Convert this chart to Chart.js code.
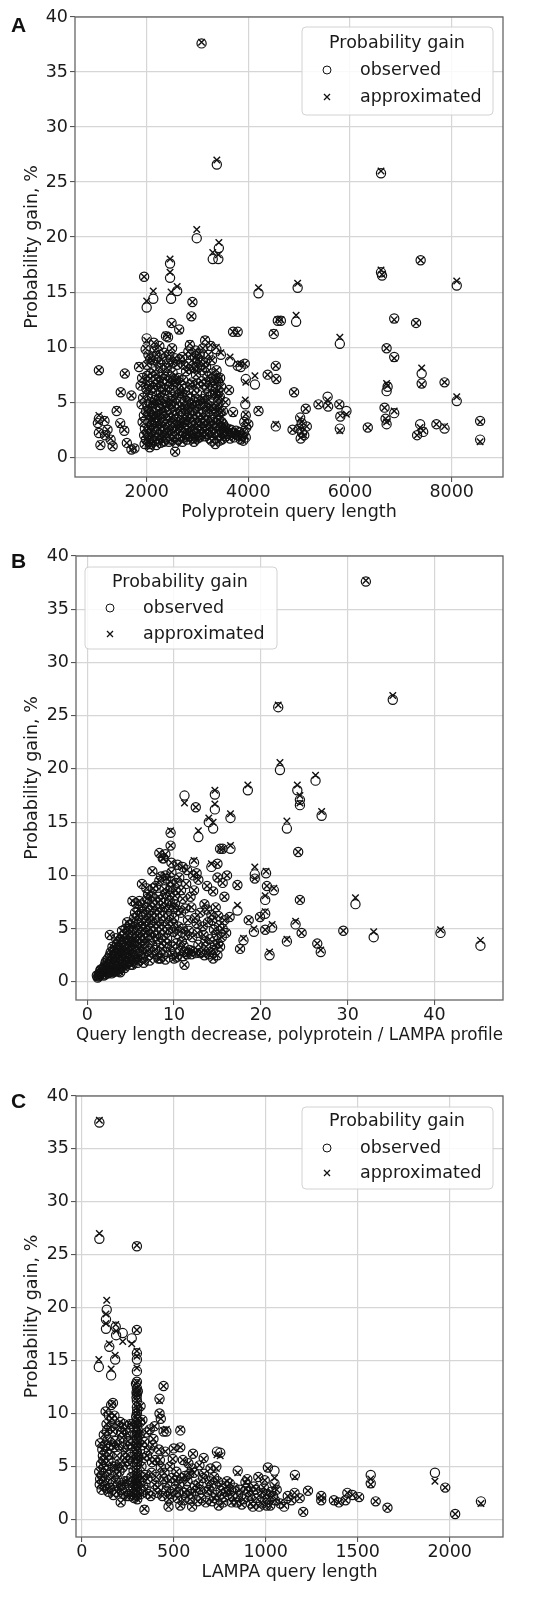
<!DOCTYPE html>
<html>
<head>
<meta charset="utf-8">
<script src="https://cdn.jsdelivr.net/npm/chart.js@4.4.1/dist/chart.umd.min.js"></script>
<style>
html, body { margin: 0; padding: 0; background: #fff; }
#wrap { position: relative; width: 543px; height: 1604px; }
canvas { position: absolute; left: 0; }
.tag { position: absolute; left: 11px; font: bold 21px "Liberation Sans", Arial, sans-serif; line-height: 21px; color: #111; }
</style>
</head>
<body>
<div id="wrap">
  <canvas id="chartA" width="543" height="530" style="top:0"></canvas>
  <canvas id="chartB" width="543" height="530" style="top:530px"></canvas>
  <canvas id="chartC" width="543" height="544" style="top:1060px"></canvas>
  <div class="tag" style="top:14px">A</div>
  <div class="tag" style="top:550px">B</div>
  <div class="tag" style="top:1090px">C</div>
</div>
<script>
// rows: [x, observed gain %, approximated gain %]
const pointsA = [
  [3080,37.6,37.7],[3380,26.6,27.0],[6610,25.8,26.0],[2985,19.9,20.7],[3300,18.0,18.6],[3410,18.0,18.4],
  [3420,19.0,19.5],[2460,17.6,18.0],[2460,16.3,16.8],[2480,14.4,15.0],[1950,16.4,16.4],[2000,13.6,14.2],
  [2130,14.4,15.1],[2600,15.1,15.5],[2900,14.1,14.1],[2880,12.8,12.8],[2490,12.2,12.1],[2640,11.6,11.5],
  [3700,11.4,11.4],[3790,11.4,11.3],[4200,14.9,15.4],[4500,11.2,11.3],[4580,12.4,12.5],[4640,12.4,12.5],
  [4940,12.3,12.9],[4970,15.4,15.8],[5800,10.3,10.9],[6610,16.8,17.0],[6630,16.5,16.6],[7390,17.9,17.9],
  [8100,15.6,16.0],[6870,12.6,12.5],[7300,12.2,12.2],[6720,9.9,9.9],[6870,9.1,9.0],[7410,7.6,8.1],
  [7410,6.7,6.6],[7860,6.8,6.8],[8100,5.1,5.5],[8560,3.3,3.2],[8560,1.6,1.4],[7860,2.6,2.8],
  [7700,3.0,3.0],[7380,3.0,2.7],[7320,2.0,2.0],[7440,2.3,2.4],[6720,6.0,6.7],[6740,6.4,6.5],
  [6680,4.5,4.5],[6700,3.5,3.5],[6720,3.0,3.2],[6870,4.0,4.2],[6350,2.7,2.7],[5790,4.8,4.8],
  [5810,3.7,3.8],[5800,2.6,2.4],[5930,4.2,3.9],[5560,5.5,5.2],[5380,4.8,4.8],[5570,4.6,4.7],
  [5130,4.4,4.4],[5020,3.6,3.5],[5050,3.1,3.2],[5000,2.6,2.7],[5060,2.2,2.3],[5030,1.7,1.8],
  [5100,2.0,2.0],[5150,2.8,2.8],[4870,2.5,2.5],[4540,2.8,3.0],[4900,5.9,5.9],[4540,8.3,8.3],
  [4550,7.1,7.1],[4380,7.5,7.5],[4200,4.2,4.3],[4130,6.6,7.4],[3940,4.8,5.2],[3950,7.1,6.8],
  [3930,8.5,8.5],[3850,8.2,8.5],[3700,4.1,4.0],[3640,8.7,9.1],[3790,8.3,8.5],[3460,9.3,9.5],
  [3950,3.8,3.9],[3920,3.2,3.3],[3960,2.7,2.8],[3910,2.2,2.3],[3950,1.8,1.9],[3900,1.5,1.5],
  [4000,3.0,3.0],[1060,7.9,7.9],[1570,7.6,7.6],[1490,5.9,5.9],[1410,4.2,4.3],[1700,5.6,5.6],
  [1060,3.5,3.8],[1060,2.2,2.3],[1090,1.1,1.2],[1330,1.0,1.0],[1290,1.6,1.7],[1230,2.5,2.5],
  [1040,3.1,3.2],[1170,3.3,3.4],[1180,2.0,2.0],[1700,0.7,0.7],[1760,0.8,0.8],[1610,1.3,1.3],
  [1480,3.1,3.0],[1560,2.4,2.5],[2560,0.5,0.5],
  [1850,8.2,8.3],[1880,6.5,6.5],[1900,4.8,4.8],[1920,3.2,3.2],[1950,2.0,2.0],[1960,1.2,1.2],
  [1980,9.8,9.9],[2000,10.8,10.6],[2010,7.4,7.4],[2020,5.6,5.6],[2030,3.9,3.9],[2040,2.6,2.6],
  [2050,1.5,1.5],[2060,0.9,0.9],[2070,8.9,8.9],[2080,6.1,6.1],[2100,4.4,4.4],[2110,3.0,3.0],
  [2120,1.9,1.9],[2140,10.4,10.4],[2150,7.8,7.8],[2160,5.2,5.2],[2170,3.6,3.6],[2180,2.3,2.3],
  [2190,1.1,1.1],[2200,9.2,9.3],[2220,6.8,6.8],[2230,4.7,4.7],[2240,3.3,3.3],[2250,2.0,2.0],
  [2270,8.1,8.1],[2280,5.9,5.9],[2300,4.0,4.0],[2310,2.8,2.8],[2330,1.4,1.4],[2340,9.5,9.5],
  [2350,7.1,7.1],[2370,5.0,5.0],[2380,3.5,3.5],[2390,2.2,2.2],[2420,10.9,11.0],[2430,8.6,8.6],
  [2440,6.4,6.4],[2450,4.3,4.3],[2460,2.9,2.9],[2470,1.6,1.6],[2500,9.9,9.9],[2510,7.7,7.7],
  [2520,5.5,5.5],[2530,3.8,3.8],[2550,2.4,2.4],[2570,1.3,1.3],[2600,8.4,8.4],[2620,6.2,6.2],
  [2640,4.6,4.6],[2660,3.1,3.1],[2680,1.9,1.9],[2700,9.1,9.1],[2720,7.0,7.0],[2740,5.1,5.1],
  [2760,3.4,3.4],[2780,2.1,2.1],[2800,1.6,1.6],[2820,9.6,9.6],[2840,8.0,8.0],[2860,6.6,6.6],
  [2880,4.9,4.9],[2900,3.7,3.7],[2910,2.5,2.5],[2930,1.4,1.4],[2950,9.0,9.0],[2970,7.5,7.5],
  [2990,5.8,5.8],[3010,4.1,4.1],[3020,2.9,2.9],[3040,1.8,1.8],[3060,8.7,8.7],[3080,6.9,6.9],
  [3100,5.3,5.3],[3110,3.6,3.6],[3130,2.3,2.3],[3150,10.6,10.7],[3170,8.2,8.2],[3190,6.3,6.3],
  [3200,4.5,4.5],[3220,3.0,3.0],[3240,1.7,1.7],[3260,10.1,10.2],[3280,7.6,7.6],[3300,5.7,5.7],
  [3320,4.0,4.0],[3330,2.6,2.6],[3350,1.2,1.2],[3370,9.8,10.0],[3390,7.2,7.2],[3400,6.0,6.0],
  [3410,4.8,4.8],[3420,3.4,3.4],[3430,2.0,2.0],[3440,5.5,5.5],[3460,2.8,2.8],[3480,1.6,1.6],
  [3520,2.3,2.3],[3560,1.9,1.9],[3600,2.6,2.6],[3640,1.7,1.7],[3680,2.2,2.2],[3720,1.8,1.8],
  [3760,2.4,2.4],[3800,2.0,2.0],[3850,1.6,1.6],[3620,6.1,6.1],[3550,5.0,5.0],[3500,4.2,4.2],
  [1990,4.2,4.2],[2090,2.9,2.9],[2190,6.6,6.6],[2290,3.9,3.9],[2410,2.2,2.2],[2560,6.8,6.8],
  [2690,5.8,5.8],[2810,4.4,4.4],[2930,6.1,6.1],[3050,3.3,3.3],[3180,2.1,2.1],[3000,8.9,8.9],
  [2960,9.7,9.7],[2850,10.2,10.3],[2250,10.1,10.1],[2380,11.0,11.1],[2020,6.9,6.9],[2140,3.4,3.4],
  [2480,4.8,4.8],[2740,2.7,2.7],
  [1910,7.2,7.2],[1930,5.4,5.4],[1945,3.8,3.8],[1965,2.6,2.6],[1985,1.6,1.6],[1995,6.2,6.2],
  [2005,8.4,8.4],[2015,4.6,4.6],[2025,2.1,2.1],[2035,9.3,9.3],[2045,6.5,6.5],[2055,3.3,3.3],
  [2065,1.2,1.2],[2075,7.6,7.6],[2085,5.0,5.0],[2095,3.7,3.7],[2105,2.4,2.4],[2115,8.8,8.8],
  [2125,6.3,6.3],[2135,4.9,4.9],[2145,1.5,1.5],[2155,9.7,9.7],[2165,4.0,4.0],[2175,7.1,7.1],
  [2185,2.8,2.8],[2195,5.6,5.6],[2205,3.6,3.6],[2215,1.7,1.7],[2225,8.6,8.6],[2235,5.3,5.3],
  [2245,2.6,2.6],[2255,7.3,7.3],[2265,4.4,4.4],[2275,1.3,1.3],[2285,6.4,6.4],[2295,3.1,3.1],
  [2305,8.9,8.9],[2315,5.4,5.4],[2325,2.3,2.3],[2335,7.6,7.6],[2345,4.5,4.5],[2355,1.8,1.8],
  [2365,6.1,6.1],[2375,3.0,3.0],[2395,8.1,8.1],[2405,4.9,4.9],[2415,6.9,6.9],[2425,3.8,3.8],
  [2435,1.4,1.4],[2445,9.3,9.3],[2455,5.9,5.9],[2465,3.6,3.6],[2475,7.3,7.3],[2485,2.5,2.5],
  [2495,5.1,5.1],[2505,8.6,8.6],[2515,3.1,3.1],[2525,6.6,6.6],[2535,1.9,1.9],[2545,4.6,4.6],
  [2555,9.0,9.0],[2565,3.4,3.4],[2575,7.1,7.1],[2585,5.4,5.4],[2595,2.5,2.5],[2605,4.0,4.0],
  [2615,1.6,1.6],[2625,7.2,7.2],[2635,2.9,2.9],[2645,5.8,5.8],[2655,8.9,8.9],[2665,4.2,4.2],
  [2675,2.4,2.4],[2685,6.5,6.5],[2695,3.6,3.6],[2705,1.4,1.4],[2715,4.8,4.8],[2725,8.4,8.4],
  [2735,3.2,3.2],[2745,6.2,6.2],[2755,1.8,1.8],[2765,4.4,4.4],[2775,7.8,7.8],[2785,2.9,2.9],
  [2795,5.6,5.6],[2805,3.7,3.7],[2815,2.2,2.2],[2825,8.5,8.5],[2835,4.0,4.0],[2845,1.9,1.9],
  [2855,5.3,5.3],[2865,3.1,3.1],[2875,9.3,9.3],[2885,2.4,2.4],[2895,6.8,6.8],[2905,4.3,4.3],
  [2915,1.7,1.7],[2925,8.1,8.1],[2935,3.4,3.4],[2945,5.0,5.0],[2955,2.1,2.1],[2965,4.6,4.6],
  [2975,3.0,3.0],[2985,8.2,8.2],[2995,1.7,1.7],[3005,6.7,6.7],[3015,3.6,3.6],[3025,5.2,5.2],
  [3035,2.4,2.4],[3045,9.4,9.4],[3055,4.8,4.8],[3065,2.0,2.0],[3075,3.9,3.9],[3085,7.9,7.9],
  [3095,2.6,2.6],[3105,9.9,9.9],[3115,4.9,4.9],[3125,6.6,6.6],[3135,1.9,1.9],[3145,3.3,3.3],
  [3155,8.6,8.6],[3165,5.7,5.7],[3175,2.9,2.9],[3185,4.2,4.2],[3195,7.3,7.3],[3205,2.5,2.5],
  [3215,9.3,9.3],[3225,5.2,5.2],[3235,3.6,3.6],[3245,6.8,6.8],[3255,2.8,2.8],[3265,4.6,4.6],
  [3275,1.5,1.5],[3285,8.8,8.8],[3295,3.4,3.4],[3305,6.4,6.4],[3315,2.2,2.2],[3325,7.0,7.0],
  [3335,4.4,4.4],[3345,3.1,3.1],[3355,5.8,5.8],[3365,2.3,2.3],[3375,7.9,7.9],[3385,4.6,4.6],
  [3395,2.9,2.9],[3405,6.9,6.9],[3415,3.8,3.8],[3425,5.3,5.3],[3435,1.5,1.5],[3445,7.2,7.2],
  [3455,4.1,4.1],[3465,6.4,6.4],[3475,3.2,3.2],[3485,2.2,2.2],[3505,3.0,3.0],[3540,2.7,2.7],
  [3580,2.1,2.1],[3660,2.5,2.5],[3740,2.1,2.1],[3820,2.3,2.3],[3880,1.9,1.9]
];

const pointsB = [
  [32.1,37.6,37.7],[35.2,26.5,26.9],[22.0,25.8,26.0],[22.2,19.9,20.6],[26.3,18.9,19.4],[18.5,18.0,18.5],
  [24.2,18.0,18.5],[24.5,17.1,17.5],[24.5,16.6,16.8],[27.0,15.6,16.0],[23.0,14.4,15.1],[24.3,12.2,12.2],
  [24.5,7.7,7.7],[30.9,7.3,7.9],[29.5,4.8,4.8],[33.0,4.2,4.7],[40.7,4.6,4.9],[45.3,3.4,3.9],
  [11.2,17.5,16.8],[12.5,16.4,16.4],[14.7,17.6,18.0],[14.7,16.2,16.7],[14.0,15.0,15.4],[14.5,14.4,15.0],
  [12.8,13.6,14.2],[16.5,15.4,15.8],[9.6,14.0,14.2],[9.6,12.8,12.8],[8.3,12.1,12.1],[8.7,11.6,11.6],
  [12.3,11.2,11.4],[12.6,10.2,10.2],[11.0,10.8,10.8],[14.3,10.8,11.1],[15.0,11.1,11.1],[15.3,12.5,12.5],
  [15.6,12.5,12.5],[16.5,12.5,12.8],[16.1,10.0,10.0],[15.6,9.3,9.3],[17.3,9.1,9.1],[17.3,6.7,7.2],
  [16.4,6.1,6.1],[19.3,10.1,10.8],[19.3,9.7,9.7],[20.6,10.2,10.4],[20.7,9.0,9.0],[21.5,8.6,8.8],
  [20.5,7.7,8.1],[18.6,5.8,5.8],[19.2,4.7,5.0],[18.0,3.9,4.1],[17.6,3.1,3.1],[19.9,6.1,6.1],
  [20.5,6.4,6.6],[20.5,4.9,4.9],[21.0,2.5,2.8],[21.3,5.1,5.4],[23.0,3.8,4.0],[24.0,5.4,5.7],
  [24.7,4.6,4.6],[26.5,3.6,3.6],[26.9,2.8,3.0],[15.1,3.6,3.6],[14.5,2.2,2.2],[11.2,1.6,1.6],
  [6.5,1.8,1.8],[3.8,0.9,0.9],[2.6,4.4,4.4],[5.2,7.6,7.6],[1.1,0.6,0.6],
  [1.3,0.5,0.5],[1.5,0.8,0.8],[1.6,1.2,1.2],[1.8,0.7,0.7],[2.0,1.0,1.0],[2.0,1.5,1.5],
  [2.2,2.0,2.0],[2.3,1.2,1.2],[2.5,0.9,0.9],[2.5,1.7,1.7],[2.6,2.5,2.5],[2.8,1.4,1.4],
  [2.9,2.1,2.1],[3.0,3.0,3.0],[3.1,1.1,1.1],[3.2,1.8,1.8],[3.3,2.6,2.6],[3.4,3.5,3.5],
  [3.5,1.5,1.5],[3.6,2.2,2.2],[3.7,3.0,3.0],[3.8,4.0,4.0],[3.9,1.3,1.3],[4.0,1.9,1.9],
  [4.1,2.7,2.7],[4.2,3.4,3.4],[4.3,4.5,4.5],[4.4,1.6,1.6],[4.5,2.3,2.3],[4.6,3.1,3.1],
  [4.7,3.9,3.9],[4.8,5.0,5.0],[4.9,1.9,1.9],[5.0,2.6,2.6],[5.1,3.5,3.5],[5.2,4.3,4.3],
  [5.3,5.6,5.6],[5.4,2.1,2.1],[5.5,2.9,2.9],[5.6,3.8,3.8],[5.7,4.8,4.8],[5.8,6.2,6.2],
  [5.9,2.4,2.4],[6.0,3.2,3.2],[6.1,4.1,4.1],[6.2,5.2,5.2],[6.3,6.6,6.6],[6.5,2.7,2.7],
  [6.6,3.6,3.6],[6.7,4.6,4.6],[6.8,5.7,5.7],[6.9,7.0,7.0],[7.0,8.2,8.2],[7.1,2.5,2.5],
  [7.2,3.9,3.9],[7.3,5.0,5.0],[7.4,6.2,6.2],[7.5,7.5,7.5],[7.6,8.8,8.8],[7.8,3.0,3.0],
  [7.9,4.3,4.3],[8.0,5.5,5.5],[8.1,6.8,6.8],[8.2,8.0,8.0],[8.3,9.5,9.5],[8.4,2.2,2.2],
  [8.5,3.6,3.6],[8.6,4.9,4.9],[8.7,6.2,6.2],[8.8,7.4,7.4],[8.9,8.7,8.7],[9.0,10.0,10.0],
  [9.1,2.8,2.8],[9.2,4.1,4.1],[9.3,5.5,5.5],[9.4,6.9,6.9],[9.5,8.2,8.2],[9.6,9.4,9.4],
  [9.8,3.3,3.3],[9.9,4.7,4.7],[10.0,6.0,6.0],[10.1,7.3,7.3],[10.2,8.6,8.6],[10.3,2.3,2.3],
  [10.5,5.2,5.2],[10.6,9.8,9.8],[10.8,6.5,6.5],[10.9,3.8,3.8],[11.0,7.8,7.8],[11.2,2.8,2.8],
  [11.3,4.4,4.4],[11.4,9.2,9.2],[11.6,5.8,5.8],[11.8,3.0,3.0],[12.0,7.0,7.0],[12.1,4.2,4.2],
  [12.3,8.6,8.6],[12.5,2.7,2.7],[12.6,5.5,5.5],[12.8,3.5,3.5],[13.0,6.5,6.5],[13.2,2.8,2.8],
  [13.4,4.4,4.4],[13.5,7.3,7.3],[13.7,3.3,3.3],[13.9,5.6,5.6],[14.0,2.6,2.6],[14.1,4.0,4.0],
  [14.3,6.3,6.3],[14.5,3.0,3.0],[14.6,4.9,4.9],[14.8,7.0,7.0],[15.0,2.5,2.5],[15.2,5.3,5.3],
  [15.5,4.2,4.2],[15.8,5.8,5.8],[16.0,4.6,4.6],[12.2,10.0,10.0],[11.5,10.5,10.5],[13.8,9.0,9.0],
  [14.5,8.5,8.5],[15.0,9.8,9.8],[15.8,8.0,8.0],[9.7,11.2,11.2],[8.8,11.6,11.6],[10.4,11.0,11.0],
  [7.5,10.4,10.4],[6.8,8.8,8.8],[5.6,7.4,7.4],[6.3,9.2,9.2],[12.8,9.6,9.6],[9.0,12.0,12.0],
  [1.9,0.6,0.6],[2.4,0.8,0.8],[3.0,0.9,0.9],[2.7,1.9,1.9],[3.5,2.6,2.6],[4.2,2.0,2.0],
  [1.7,1.0,1.0],[2.1,1.8,1.8],[2.9,3.3,3.3],[3.3,4.1,4.1],[4.0,4.8,4.8],[4.6,5.6,5.6],
  [3.8,1.6,1.6],[4.8,2.2,2.2],[5.5,6.5,6.5],[6.0,7.6,7.6],
  [1.4,0.6,0.6],[1.7,0.9,0.9],[1.9,1.3,1.3],[2.1,0.7,0.7],[2.3,1.6,1.6],[2.4,2.2,2.2],
  [2.6,1.1,1.1],[2.7,2.8,2.8],[2.8,0.8,0.8],[3.0,1.6,1.6],[3.1,2.4,2.4],[3.2,3.2,3.2],
  [3.3,1.0,1.0],[3.4,2.0,2.0],[3.5,3.0,3.0],[3.6,3.8,3.8],[3.7,1.2,1.2],[3.8,2.5,2.5],
  [3.9,3.4,3.4],[4.0,4.3,4.3],[4.1,1.5,1.5],[4.2,2.9,2.9],[4.3,3.8,3.8],[4.4,5.0,5.0],
  [4.5,1.8,1.8],[4.6,2.7,2.7],[4.7,4.4,4.4],[4.8,3.4,3.4],[4.9,5.4,5.4],[5.0,1.6,1.6],
  [5.1,2.9,2.9],[5.2,3.9,3.9],[5.3,4.9,4.9],[5.4,6.0,6.0],[5.5,2.3,2.3],[5.6,3.3,3.3],
  [5.7,4.3,4.3],[5.8,5.4,5.4],[5.9,6.8,6.8],[6.0,2.0,2.0],[6.1,3.6,3.6],[6.2,4.7,4.7],
  [6.3,5.8,5.8],[6.4,7.2,7.2],[6.5,3.1,3.1],[6.6,4.1,4.1],[6.7,5.2,5.2],[6.8,6.3,6.3],
  [6.9,7.8,7.8],[7.0,2.9,2.9],[7.1,4.4,4.4],[7.2,5.6,5.6],[7.3,6.7,6.7],[7.4,8.1,8.1],
  [7.5,3.4,3.4],[7.6,4.7,4.7],[7.7,6.0,6.0],[7.8,7.2,7.2],[7.9,9.0,9.0],[8.0,2.6,2.6],
  [8.1,4.0,4.0],[8.2,5.2,5.2],[8.3,6.5,6.5],[8.4,7.7,7.7],[8.5,9.9,9.9],[8.6,3.1,3.1],
  [8.7,4.4,4.4],[8.8,5.7,5.7],[8.9,7.0,7.0],[9.0,8.3,8.3],[9.1,9.7,9.7],[9.2,3.6,3.6],
  [9.3,4.9,4.9],[9.4,6.2,6.2],[9.5,7.6,7.6],[9.6,8.9,8.9],[9.7,10.3,10.3],[9.8,2.6,2.6],
  [9.9,5.4,5.4],[10.0,7.0,7.0],[10.1,8.1,8.1],[10.2,3.6,3.6],[10.3,9.3,9.3],[10.4,4.5,4.5],
  [10.5,6.7,6.7],[10.7,2.9,2.9],[10.8,8.6,8.6],[11.0,5.0,5.0],[11.1,3.4,3.4],[11.3,6.9,6.9],
  [11.5,2.6,2.6],[11.7,4.8,4.8],[11.9,8.0,8.0],[12.1,2.9,2.9],[12.4,6.0,6.0],[12.7,4.6,4.6],
  [13.0,2.7,2.7],[13.3,5.2,5.2],[13.6,3.8,3.8],[13.8,6.8,6.8],[14.2,2.8,2.8],[14.4,5.8,5.8],
  [14.7,3.5,3.5],[14.9,4.4,4.4],[15.1,6.2,6.2],[15.3,3.3,3.3],[15.6,5.0,5.0],[12.0,2.6,2.6],
  [11.0,2.4,2.4],[10.0,2.2,2.2],[9.0,2.1,2.1],[13.5,2.5,2.5],[1.2,0.4,0.4],[1.3,0.7,0.7],
  [1.5,1.1,1.1],[2.2,1.1,1.1],[2.9,1.0,1.0],[3.6,1.0,1.0],[4.3,1.3,1.3],[5.2,1.6,1.6],
  [5.8,1.8,1.8],[6.4,2.2,2.2],[7.2,2.0,2.0],[8.2,2.2,2.2]
];

const pointsC = [
  [96,37.5,37.7],[96,26.5,27.0],[300,25.8,25.9],[93,14.4,15.1],[136,19.8,20.7],[132,18.9,19.4],
  [132,18.0,18.5],[150,16.3,16.6],[160,13.6,14.2],[185,18.2,18.4],[187,17.4,17.8],[182,15.1,15.5],
  [223,17.6,16.8],[272,17.1,16.6],[300,17.9,17.9],[300,15.7,15.9],[300,15.1,15.4],[300,14.0,14.3],
  [445,12.6,12.6],[423,11.4,11.2],[423,10.0,10.0],[396,8.8,8.8],[460,8.3,8.5],[445,8.3,8.4],
  [536,8.4,8.5],[536,6.8,6.8],[605,6.2,6.2],[735,6.4,6.1],[753,6.3,6.0],[663,5.8,5.7],
  [600,4.8,4.7],[732,5.0,4.8],[848,4.6,4.4],[1012,4.9,4.8],[1048,4.6,3.9],[1048,3.4,3.2],
  [1159,4.2,4.0],[1080,1.5,1.6],[1100,1.2,1.3],[1157,2.5,2.5],[1185,2.0,2.0],[1204,0.7,0.7],
  [1230,2.7,2.7],[1302,2.2,2.2],[1302,1.8,1.8],[1371,1.8,1.8],[1398,1.6,1.6],[1434,1.8,1.8],
  [1444,2.5,2.5],[1472,2.3,2.3],[1508,2.1,2.1],[1571,4.2,3.8],[1571,3.4,3.3],[1598,1.7,1.7],
  [1662,1.1,1.1],[1920,4.4,3.6],[1976,3.0,3.0],[2030,0.5,0.5],[2170,1.7,1.5],
  [95,4.5,4.5],[100,3.8,3.8],[105,5.2,5.2],[110,4.1,4.1],[100,7.2,7.2],[115,6.0,6.0],
  [120,8.0,8.0],[125,3.2,3.2],[130,10.2,10.2],[135,9.0,9.0],[140,7.5,7.5],[145,5.5,5.5],
  [150,4.2,4.2],[155,3.0,3.0],[160,10.8,10.8],[165,9.5,9.5],[170,8.3,8.3],[175,6.8,6.8],
  [180,5.0,5.0],[185,3.6,3.6],[190,2.6,2.6],[170,11.0,11.0],[145,2.6,2.6],[120,4.9,4.9],
  [135,6.4,6.4],[160,7.0,7.0],[200,8.8,8.8],[210,9.2,9.2],[220,7.7,7.7],[230,9.0,9.0],
  [240,6.3,6.3],[250,8.1,8.1],[260,5.2,5.2],[270,4.0,4.0],[205,4.5,4.5],[215,3.2,3.2],
  [225,2.4,2.4],[235,5.8,5.8],[245,3.6,3.6],[255,2.2,2.2],[265,7.1,7.1],[275,9.0,9.0],
  [280,3.0,3.0],[285,2.0,2.0],[212,1.6,1.6],
  [300,13.0,13.0],[300,12.4,12.4],[300,11.8,11.8],[300,11.2,11.2],[300,10.6,10.6],[300,10.0,10.0],
  [300,9.4,9.4],[300,8.8,8.8],[300,8.2,8.2],[300,7.6,7.6],[300,7.0,7.0],[300,6.4,6.4],
  [300,5.8,5.8],[300,5.2,5.2],[300,4.6,4.6],[300,4.0,4.0],[300,3.4,3.4],[300,2.8,2.8],
  [300,2.2,2.2],[295,12.8,12.8],[305,12.1,12.1],[296,9.7,9.7],[304,8.5,8.5],[296,6.7,6.7],
  [304,5.5,5.5],[296,3.7,3.7],[304,2.5,2.5],
  [320,10.7,10.7],[330,9.4,9.4],[315,8.0,8.0],[340,7.3,7.3],[355,6.0,6.0],[325,5.0,5.0],
  [345,4.2,4.2],[335,3.2,3.2],[360,2.4,2.4],[341,0.9,1.0],[370,8.5,8.5],[385,7.0,7.0],
  [400,5.6,5.6],[380,4.4,4.4],[395,3.3,3.3],[410,2.5,2.5],[420,6.6,6.6],[430,4.9,4.9],
  [445,3.8,3.8],[460,2.7,2.7],[475,1.9,1.9],[472,1.2,1.2],[455,6.4,6.4],[480,5.0,5.0],
  [490,3.9,3.9],[505,2.8,2.8],[520,2.0,2.0],[500,6.7,6.7],[515,4.5,4.5],[530,3.3,3.3],
  [536,1.3,1.3],[550,5.6,5.6],[560,2.5,2.5],[575,3.6,3.6],[590,1.9,1.9],[600,1.2,1.2],
  [610,4.4,4.4],[620,2.7,2.7],[635,3.4,3.4],[650,2.0,2.0],[665,4.3,4.3],[680,2.6,2.6],
  [695,3.6,3.6],[710,1.7,1.7],[730,2.3,2.3],[745,1.3,1.3],[760,3.2,3.2],[775,2.1,2.1],
  [790,3.6,3.6],[800,2.7,2.7],[815,1.6,1.6],[830,3.0,3.0],[850,2.2,2.2],[870,1.4,1.4],
  [890,3.5,3.5],[905,2.6,2.6],[920,1.5,1.5],[935,3.1,3.1],[950,2.0,2.0],[965,1.2,1.2],
  [980,2.5,2.5],[995,3.7,3.7],[1010,1.9,1.9],[1025,1.3,1.3],[1040,2.2,2.2],[1060,2.8,2.8],
  [1120,2.2,2.2],[1140,1.8,1.8],[700,4.8,4.8],[720,4.0,4.0],[640,5.1,5.1],[580,5.3,5.3],
  [560,4.1,4.1],[430,9.5,9.5],[900,3.8,3.8],[960,4.0,4.0],[1000,2.4,2.4],
  [98,3.3,3.3],[108,2.8,2.8],[112,6.6,6.6],[118,5.6,5.6],[122,3.6,3.6],[128,7.0,7.0],
  [132,4.6,4.6],[138,8.4,8.4],[142,2.9,2.9],[148,9.8,9.8],[152,6.1,6.1],[158,3.8,3.8],
  [162,8.8,8.8],[168,5.0,5.0],[172,2.3,2.3],[178,9.8,9.8],[182,7.4,7.4],[188,4.3,4.3],
  [192,6.0,6.0],[196,3.2,3.2],[202,7.0,7.0],[208,5.3,5.3],[214,8.2,8.2],[218,2.8,2.8],
  [222,4.9,4.9],[228,6.8,6.8],[232,3.6,3.6],[238,8.5,8.5],[242,2.2,2.2],[248,5.5,5.5],
  [252,7.4,7.4],[258,3.2,3.2],[262,9.0,9.0],[268,5.9,5.9],[272,2.6,2.6],[278,6.9,6.9],
  [282,4.6,4.6],[288,8.0,8.0],[292,3.4,3.4],[298,12.0,12.0],[302,10.3,10.3],[298,9.1,9.1],
  [302,7.3,7.3],[298,6.1,6.1],[302,4.3,4.3],[298,3.1,3.1],[302,1.9,1.9],[298,11.5,11.5],
  [302,8.0,8.0],[308,6.0,6.0],[312,3.6,3.6],[318,9.2,9.2],[322,2.4,2.4],[328,7.0,7.0],
  [332,4.0,4.0],[338,5.8,5.8],[348,2.8,2.8],[352,8.2,8.2],[358,3.8,3.8],[365,6.5,6.5],
  [375,2.2,2.2],[382,5.4,5.4],[390,7.6,7.6],[405,4.0,4.0],[415,3.0,3.0],[425,5.6,5.6],
  [438,2.2,2.2],[450,4.4,4.4],[465,3.4,3.4],[485,2.4,2.4],[495,5.7,5.7],[510,3.7,3.7],
  [525,2.6,2.6],[545,3.9,3.9],[555,1.8,1.8],[570,2.8,2.8],[585,4.3,4.3],[595,2.4,2.4],
  [615,3.2,3.2],[630,1.7,1.7],[645,2.8,2.8],[660,3.9,3.9],[675,1.6,1.6],[690,2.8,2.8],
  [705,3.2,3.2],[720,2.0,2.0],[740,3.6,3.6],[755,2.7,2.7],[770,1.6,1.6],[785,2.6,2.6],
  [805,3.4,3.4],[820,2.2,2.2],[840,1.6,1.6],[860,2.8,2.8],[880,1.9,1.9],[895,2.9,2.9],
  [915,2.2,2.2],[930,1.2,1.2],[945,2.8,2.8],[975,1.6,1.6],[990,3.0,3.0],[1005,1.3,1.3],
  [1030,2.6,2.6],[1050,1.8,1.8]
];

const ticksXA = [2000, 4000, 6000, 8000];
const ticksXB = [0, 10, 20, 30, 40];
const ticksXC = [0, 500, 1000, 1500, 2000];
const ticksY = [0, 5, 10, 15, 20, 25, 30, 35, 40];

const LEGEND_TITLE = 'Probability gain';
const SERIES = ['observed', 'approximated'];
const FONT_FAMILY = '"DejaVu Sans", sans-serif';
const FONT_SIZE = 17.5;
const INK = '#1a1a1a';

// outer frame (all four spines)
const frame = {
  id: 'frame',
  afterDraw(chart) {
    const {ctx, chartArea: a} = chart;
    ctx.save();
    ctx.strokeStyle = '#666';
    ctx.lineWidth = 1.3;
    ctx.strokeRect(a.left, a.top, a.right - a.left, a.bottom - a.top);
    ctx.restore();
  }
};

// in-axes legend box like matplotlib
const legendBox = {
  id: 'legendBox',
  afterDraw(chart, args, o) {
    const ctx = chart.ctx;
    ctx.save();
    const r = 4;
    ctx.beginPath();
    ctx.moveTo(o.x + r, o.y);
    ctx.arcTo(o.x + o.w, o.y, o.x + o.w, o.y + o.h, r);
    ctx.arcTo(o.x + o.w, o.y + o.h, o.x, o.y + o.h, r);
    ctx.arcTo(o.x, o.y + o.h, o.x, o.y, r);
    ctx.arcTo(o.x, o.y, o.x + o.w, o.y, r);
    ctx.closePath();
    ctx.fillStyle = 'rgba(255,255,255,0.85)';
    ctx.fill();
    ctx.strokeStyle = '#d2d2d2';
    ctx.lineWidth = 1;
    ctx.stroke();

    ctx.fillStyle = INK;
    ctx.font = FONT_SIZE + 'px ' + FONT_FAMILY;
    ctx.textBaseline = 'middle';
    ctx.textAlign = 'center';
    ctx.fillText(LEGEND_TITLE, o.titleX, o.titleY);
    ctx.textAlign = 'left';
    ctx.fillText(SERIES[0], o.textX, o.row1);
    ctx.fillText(SERIES[1], o.textX, o.row2);

    ctx.strokeStyle = '#111';
    ctx.lineWidth = 1;
    ctx.beginPath();
    ctx.arc(o.markX, o.row1, 4, 0, Math.PI * 2);
    ctx.stroke();
    ctx.lineWidth = 1.3;
    ctx.beginPath();
    ctx.moveTo(o.markX - 3, o.row2 - 3); ctx.lineTo(o.markX + 3, o.row2 + 3);
    ctx.moveTo(o.markX + 3, o.row2 - 3); ctx.lineTo(o.markX - 3, o.row2 + 3);
    ctx.stroke();
    ctx.restore();
  }
};

function buildPanel(id, rows, cfg) {
  const canvas = document.getElementById(id);
  if (!canvas) return null;
  const font = { family: FONT_FAMILY, size: FONT_SIZE };
  const grid = { color: '#d6d6d6', lineWidth: 1.2, tickLength: 5, tickColor: '#444', tickWidth: 1 };
  return new Chart(canvas, {
    type: 'scatter',
    data: {
      datasets: [{
        label: SERIES[0],
        data: rows.map(r => ({ x: r[0], y: r[1] })),
        pointStyle: 'circle',
        pointRadius: 4.6,
        pointBorderWidth: 1.2,
        borderColor: '#111',
        pointBorderColor: '#111',
        backgroundColor: 'rgba(0,0,0,0)',
        pointBackgroundColor: 'rgba(0,0,0,0)'
      }, {
        label: SERIES[1],
        data: rows.map(r => ({ x: r[0], y: r[2] })),
        pointStyle: 'crossRot',
        pointRadius: 4.6,
        pointBorderWidth: 1.4,
        borderColor: '#111',
        pointBorderColor: '#111'
      }]
    },
    options: {
      responsive: false,
      animation: false,
      devicePixelRatio: 1,
      layout: { padding: { left: 0, right: 40, top: cfg.top, bottom: cfg.bottom } },
      plugins: {
        legend: { display: false },
        tooltip: { enabled: false },
        legendBox: cfg.legend
      },
      scales: {
        x: {
          type: 'linear',
          min: cfg.xMin,
          max: cfg.xMax,
          afterBuildTicks: s => { s.ticks = cfg.xTicks.map(v => ({ value: v })); },
          afterFit: s => { s.height = 46; },
          grid,
          border: { display: false },
          ticks: { font, color: INK, padding: 0, maxRotation: 0, callback: v => String(v) },
          title: { display: true, text: cfg.xTitle, font, color: INK, padding: 0 }
        },
        y: {
          type: 'linear',
          min: cfg.yMin,
          max: 40,
          afterBuildTicks: s => { s.ticks = ticksY.map(v => ({ value: v })); },
          afterFit: s => { s.width = cfg.left; },
          grid,
          border: { display: false },
          ticks: { font, color: INK, padding: 2, callback: v => String(v) },
          title: { display: true, text: 'Probability gain, %', font, color: INK, padding: { top: 22, bottom: 0 } }
        }
      }
    },
    plugins: [frame, legendBox]
  });
}

buildPanel('chartA', pointsA, {
  top: 17, bottom: 7, left: 75, xMin: 590, xMax: 9010, yMin: -1.8, xTicks: ticksXA,
  xTitle: 'Polyprotein query length',
  legend: { x: 302, y: 27, w: 191, h: 88, titleX: 397, titleY: 43, row1: 70, row2: 97, markX: 327, textX: 360 }
});
buildPanel('chartB', pointsB, {
  top: 26, bottom: 14, left: 76, xMin: -1.3, xMax: 47.9, yMin: -1.7, xTicks: ticksXB,
  xTitle: 'Query length decrease, polyprotein / LAMPA profile',
  legend: { x: 85, y: 37, w: 192, h: 82, titleX: 180, titleY: 52, row1: 78, row2: 104, markX: 110, textX: 143 }
});
buildPanel('chartC', pointsC, {
  top: 36, bottom: 21, left: 76, xMin: -31, xMax: 2290, yMin: -1.67, xTicks: ticksXC,
  xTitle: 'LAMPA query length',
  legend: { x: 302, y: 47, w: 191, h: 82, titleX: 397, titleY: 61, row1: 88, row2: 113, markX: 327, textX: 360 }
});
</script>
</body>
</html>
